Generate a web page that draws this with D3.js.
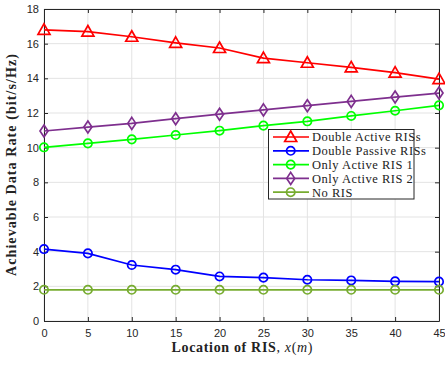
<!DOCTYPE html>
<html>
<head>
<meta charset="utf-8">
<script src="https://cdn.jsdelivr.net/npm/d3@7"></script>
<style>
    body { margin: 0; background: #fff; }
    .tick text { font-family: "Liberation Sans", Arial, sans-serif; font-size: 11px; fill: #262626; }
    .grid line { stroke: #e3e3e3; stroke-width: 1; }
    .lbl { font-family: "Liberation Serif", "DejaVu Serif", serif; font-weight: bold; font-size: 14px; fill: #222; }
    .leg text { font-family: "Liberation Serif", "DejaVu Serif", serif; font-size: 12.5px; letter-spacing: 0.5px; fill: #222; }
</style>
</head>
<body>
<svg id="chart" width="445" height="365"></svg>
<script>
// x positions of the RIS
const locations = [0, 5, 10, 15, 20, 25, 30, 35, 40, 45];

// achievable rate of each scheme (bit/s/Hz)
const doubleActive = [16.8, 16.7, 16.4, 16.05, 15.75, 15.17, 14.9, 14.63, 14.33, 13.95];
const doublePassive = [4.15, 3.9, 3.23, 2.96, 2.57, 2.5, 2.38, 2.34, 2.29, 2.27];
const onlyActive1 = [10.02, 10.25, 10.48, 10.73, 10.98, 11.27, 11.52, 11.83, 12.13, 12.44];
const onlyActive2 = [10.96, 11.19, 11.4, 11.67, 11.93, 12.18, 12.42, 12.67, 12.92, 13.15];
const noRis = [1.8, 1.8, 1.8, 1.8, 1.8, 1.8, 1.8, 1.8, 1.8, 1.8];

const xTicks = [0, 5, 10, 15, 20, 25, 30, 35, 40, 45];
const yTicks = [0, 2, 4, 6, 8, 10, 12, 14, 16, 18];

const series = [
    {name: "Double Active RISs", values: doubleActive, color: "#ff0000", marker: "triangle"},
    {name: "Double Passive RISs", values: doublePassive, color: "#0000ff", marker: "circle"},
    {name: "Only Active RIS 1", values: onlyActive1, color: "#00ff00", marker: "circle"},
    {name: "Only Active RIS 2", values: onlyActive2, color: "#7e2f8e", marker: "diamond"},
    {name: "No RIS", values: noRis, color: "#77ac30", marker: "circle"}
];

const svg = d3.select("#chart");
const pLeft = 44, pRight = 439, pTop = 9, pBottom = 321;

let x = d3.scaleLinear().domain([0, 45]).range([pLeft, pRight]);
let y = d3.scaleLinear().domain([0, 18]).range([pBottom, pTop]);

// grid
let grid = svg.append("g").attr("class", "grid");
grid.selectAll("line.v").data(xTicks).enter().append("line").attr("class", "v")
    .attr("x1", d => x(d)).attr("x2", d => x(d))
    .attr("y1", pTop).attr("y2", pBottom);
grid.selectAll("line.h").data(yTicks).enter().append("line").attr("class", "h")
    .attr("x1", pLeft).attr("x2", pRight)
    .attr("y1", d => y(d)).attr("y2", d => y(d));

// axes
svg.append("g").attr("transform", `translate(0,${pBottom})`)
    .call(d3.axisBottom(x).tickValues(xTicks).tickSizeInner(-4).tickSizeOuter(0).tickPadding(8));
svg.append("g").attr("transform", `translate(${pLeft},0)`)
    .call(d3.axisLeft(y).tickValues(yTicks).tickSizeInner(-4).tickSizeOuter(0).tickPadding(5));
svg.append("g").attr("transform", `translate(0,${pTop})`)
    .call(d3.axisTop(x).tickValues(xTicks).tickSizeInner(-4).tickSizeOuter(0).tickFormat(""));
svg.append("g").attr("transform", `translate(${pRight},0)`)
    .call(d3.axisRight(y).tickValues(yTicks).tickSizeInner(-4).tickSizeOuter(0).tickFormat(""));
svg.selectAll(".domain").attr("stroke", "#262626");
svg.selectAll(".tick line").attr("stroke", "#262626");

// marker shapes
function drawMarker(g, type, color) {
    if (type === "circle") {
        g.append("circle").attr("r", 4.2);
    } else if (type === "triangle") {
        g.append("path").attr("d", "M0,-6L6,4.5L-6,4.5Z");
    } else {
        g.append("path").attr("d", "M0,-6L4,0L0,6L-4,0Z");
    }
    g.selectAll("*").attr("fill", "none").attr("stroke", color).attr("stroke-width", 1.7);
}

let line = d3.line().x((d, i) => x(locations[i])).y(d => y(d));

series.forEach(s => {
    svg.append("path").datum(s.values)
        .attr("d", line)
        .attr("fill", "none")
        .attr("stroke", s.color)
        .attr("stroke-width", 1.7);
    s.values.forEach((v, i) => {
        let g = svg.append("g").attr("transform", `translate(${x(locations[i])},${y(v)})`);
        drawMarker(g, s.marker, s.color);
    });
});

// legend
let leg = svg.append("g").attr("class", "leg");
leg.append("rect")
    .attr("x", 268.5).attr("y", 129.5).attr("width", 145.5).attr("height", 69.5)
    .attr("fill", "#fff").attr("stroke", "#262626").attr("stroke-width", 1);
series.forEach((s, i) => {
    let yy = 137 + i * 13.8;
    leg.append("line")
        .attr("x1", 273).attr("x2", 309).attr("y1", yy).attr("y2", yy)
        .attr("stroke", s.color).attr("stroke-width", 1.7);
    let g = leg.append("g").attr("transform", `translate(290.7,${yy})`);
    drawMarker(g, s.marker, s.color);
    leg.append("text").attr("x", 312).attr("y", yy + 4.3).text(s.name);
});

// axis labels
svg.append("text").attr("class", "lbl")
    .attr("transform", `translate(16,${(pTop + pBottom) / 2}) rotate(-90)`)
    .attr("text-anchor", "middle")
    .attr("textLength", 222).attr("lengthAdjust", "spacing")
    .text("Achievable Data Rate (bit/s/Hz)");

let xl = svg.append("text").attr("class", "lbl")
    .attr("x", 242).attr("y", 352)
    .attr("text-anchor", "middle")
    .attr("textLength", 141).attr("lengthAdjust", "spacing");
xl.append("tspan").text("Location of RIS");
xl.append("tspan").attr("font-weight", "normal").text(", ");
xl.append("tspan").attr("font-weight", "normal").attr("font-style", "italic").text("x");
xl.append("tspan").attr("font-weight", "normal").text("(");
xl.append("tspan").attr("font-weight", "normal").attr("font-style", "italic").text("m");
xl.append("tspan").attr("font-weight", "normal").text(")");
</script>
</body>
</html>
